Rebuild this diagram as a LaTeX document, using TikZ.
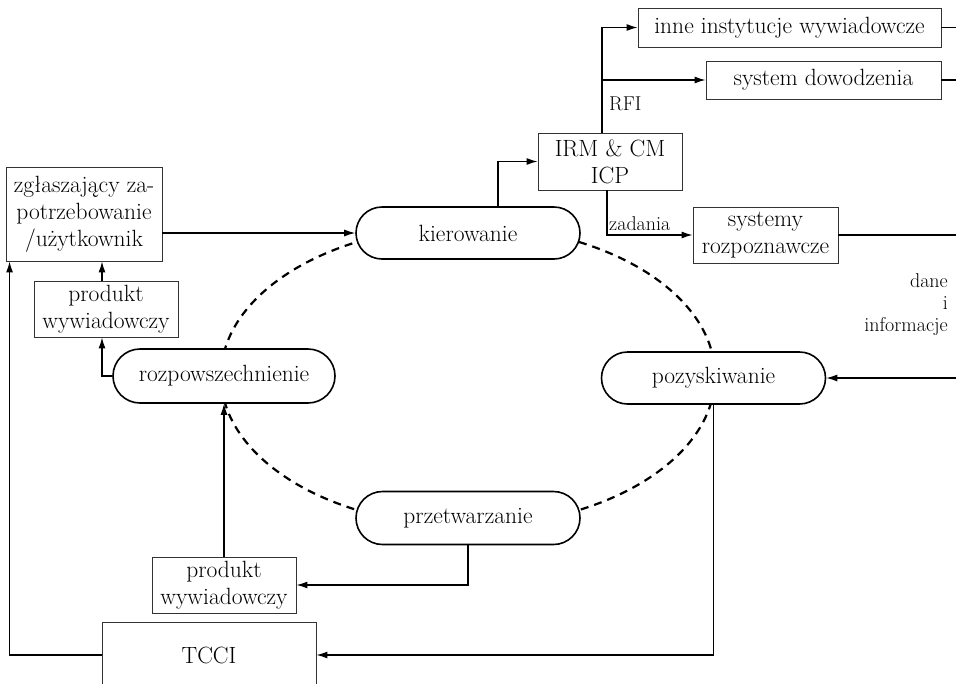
\documentclass[tikz,border=0pt]{standalone}
\usepackage{fontspec}
\usepackage{tikz}
\usetikzlibrary{shapes.misc}
\usetikzlibrary{arrows.meta}
\usetikzlibrary{calc}

\begin{document}
\begin{tikzpicture}[x=1pt,y=-1pt,
  box/.style={draw=mycolor333333,line width=0.9pt,fill=white,align=center,inner sep=0.0},
  phase/.style={draw=mycolor000000,rounded rectangle,line width=1.6pt,fill=white,minimum width=224pt,minimum height=52pt,inner sep=0.0},
  flow/.style={draw=mycolor000000,line width=1.2pt,-{Latex[length=11pt,width=7pt]}},
  link/.style={draw=mycolor000000,line width=1.2pt},
  cyclepath/.style={draw=mycolor000000,line width=2.2pt,dash pattern=on 8pt off 6pt},
  txt/.style={font=\fontsize{23.5pt}{27pt}\selectfont},
  lbl/.style={font=\fontsize{20pt}{22pt}\selectfont,inner sep=0.0}]
\definecolor{mycolor000000}{rgb}{0,0,0}
\definecolor{mycolor333333}{rgb}{0.2,0.2,0.2}
\useasboundingbox (0,0) rectangle (956,683);
\clip (0,0) rectangle (956,683);
% cycle
\coordinate (hub) at (468,376);
\draw [cyclepath] (hub) ellipse [x radius=247pt,y radius=150pt];
\begin{scope}
% phases
\node (kier) [phase,txt] at (468,233) {kierowanie};
\node (pozysk) [phase,txt] at (713.5,378) {pozyskiwanie};
\node (przetw) [phase,txt,minimum height=53pt] at (468,518) {przetwarzanie};
\node (rozp) [phase,txt,minimum width=222pt,minimum height=54pt] at (224,376) {rozpowszechnienie};
\end{scope}
\begin{scope}
% boxes
\node (user) [box,txt,minimum width=156pt,minimum height=94pt] at (84,214) {zgłaszający za-\\potrzebowanie\\/użytkownik};
\node (prodtop) [box,txt,minimum width=144pt,minimum height=56pt] at (106,309) {produkt\\wywiadowczy};
\node (irm) [box,txt,minimum width=144pt,minimum height=57pt] at (610,161.5) {IRM \& CM\\ICP};
\node (inne) [box,txt,minimum width=303pt,minimum height=39pt] at (789.5,27.5) {inne instytucje wywiadowcze};
\node (dowodz) [box,txt,minimum width=235pt,minimum height=38pt] at (823.5,80) {system dowodzenia};
\node (syst) [box,txt,minimum width=145pt,minimum height=56pt] at (765.5,235) {systemy\\rozpoznawcze};
\node (prodbot) [box,txt,minimum width=144pt,minimum height=56pt] at (224,585) {produkt\\wywiadowczy};
\node (tcci) [box,txt,minimum width=214pt,minimum height=66pt] at (209,655) {TCCI};
\end{scope}
\begin{scope}
% labels
\node (rfi) [lbl,anchor=west] at (609,104) {RFI};
\node (zad) [lbl,anchor=south west] at (609,231) {zadania};
\node (dane) [lbl,align=right,anchor=east] at (948,305) {dane\\i\\informacje};
\end{scope}
\begin{scope}
% right edge
\coordinate (edgeinne) at (956,27.5);
\coordinate (edgedow) at (956,80);
\coordinate (edgesyst) at (956,235);
\coordinate (edgepoz) at (956,378);
\coordinate (fork) at ([xshift=-8pt]irm.north);
\draw [link] (inne.east) -- (edgeinne);
\draw [link] (dowodz.east) -- (edgedow);
\draw [link] (syst.east) -- (edgesyst);
\draw [flow] (edgepoz) -- (pozysk.east);
\draw [flow] (user.east |- kier.west) -- (kier.west);
\draw [flow] ([xshift=30pt]kier.north) |- (irm.west);
\draw [flow] (fork) |- (inne.west);
\draw [flow] (fork |- dowodz.west) -- (dowodz.west);
\draw [flow] ([xshift=-3pt]irm.south) |- (syst.west);
\draw [flow] (pozysk.south) |- (tcci.east);
\draw [flow] (przetw.south) |- (prodbot.east);
\draw [flow] (prodbot.north) -- (rozp.south);
\draw [flow] (rozp.west) -| ([xshift=-4pt]prodtop.south);
\draw [flow] ([xshift=-4pt]prodtop.north) -- ([xshift=-4pt]prodtop.north |- user.south);
\draw [flow] (tcci.west) -| ([xshift=4pt]user.south west);
\end{scope}
\end{tikzpicture}
\end{document}
